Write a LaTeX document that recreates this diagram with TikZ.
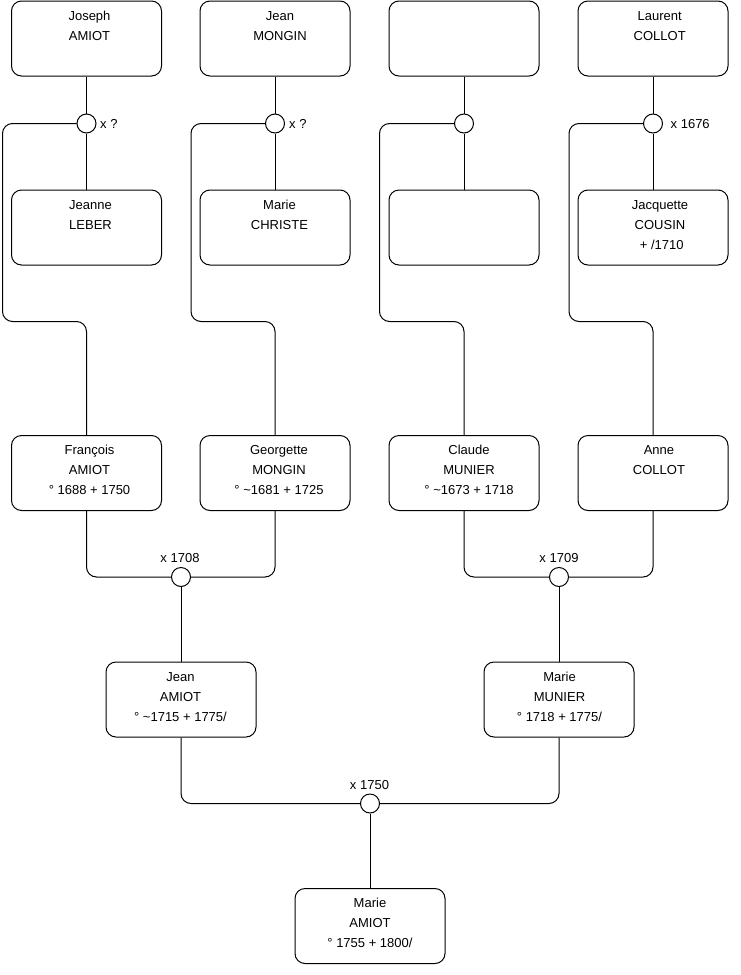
\documentclass[tikz,border=0pt]{standalone}
\usepackage{fontspec}
\setmainfont{Liberation Sans}
\newcommand{\ptext}[2]{\parbox[t][75pt][t]{150pt}{\centering\leftskip=#1 plus 1fil\rule{0pt}{19pt}#2}}
\begin{document}
\begin{tikzpicture}[x=1pt,y=-1pt, font=\fontsize{13}{20}\selectfont,
  box/.style={draw, rounded corners=10pt, minimum width=150pt, minimum height=75pt, inner sep=0pt, line width=1pt},
  knot/.style={draw, circle, minimum size=19pt, inner sep=0pt, line width=1pt, fill=white},
  link/.style={line width=1pt, rounded corners=10pt},
  lbl/.style={inner sep=0pt}]
\useasboundingbox (0,0) rectangle (740,975);

% top row: fathers
\node[box] (p1) at (86.5,38.5) {\ptext{6pt}{Joseph\\AMIOT}};
\node[box] (p2) at (275,38.5) {\ptext{10pt}{Jean\\MONGIN}};
\node[box] (p3) at (464,38.5) {};
\node[box] (p4) at (653,38.5) {\ptext{13.5pt}{Laurent\\COLLOT}};

% marriage knots
\node[knot] (k1) at (86.5,123.5) {};
\node[knot] (k2) at (275,123.5) {};
\node[knot] (k3) at (464,123.5) {};
\node[knot] (k4) at (653,123.5) {};

% mothers
\node[box] (m1) at (86.5,227.5) {\ptext{8pt}{Jeanne\\LEBER}};
\node[box] (m2) at (275,227.5) {\ptext{9pt}{Marie\\CHRISTE}};
\node[box] (m3) at (464,227.5) {};
\node[box] (m4) at (653,227.5) {\ptext{14pt}{Jacquette\\COUSIN\\\hspace*{3.6pt}+ /1710}};

% third row
\node[box] (c1) at (86.5,473) {\ptext{6pt}{François\\AMIOT\\° 1688 + 1750}};
\node[box] (c2) at (275,473) {\ptext{8pt}{Georgette\\MONGIN\\° \textasciitilde1681 + 1725}};
\node[box] (c3) at (464,473) {\ptext{10pt}{Claude\\MUNIER\\° \textasciitilde1673 + 1718}};
\node[box] (c4) at (653,473) {\ptext{12pt}{Anne\\COLLOT}};

\node[knot] (k5) at (181,577) {};
\node[knot] (k6) at (559,577) {};

\node[box] (g1) at (181,699.5) {\ptext{-1pt}{Jean\\AMIOT\\° \textasciitilde1715 + 1775/}};
\node[box] (g2) at (559,699.5) {\ptext{1pt}{Marie\\MUNIER\\° 1718 + 1775/}};

\node[knot] (k7) at (370,803.5) {};

\node[box] (r) at (370,926) {\ptext{0pt}{Marie\\AMIOT\\° 1755 + 1800/}};

% connectors
\draw[link] (p1) -- (k1);
\draw[link] (p2) -- (k2);
\draw[link] (p3) -- (k3);
\draw[link] (p4) -- (k4);
\draw[link] (k1) -- (m1);
\draw[link] (k2) -- (m2);
\draw[link] (k3) -- (m3);
\draw[link] (k4) -- (m4);
\draw[link] (k1.west) -| (2.5,321.5) -| (c1.north);
\draw[link] (k2.west) -| (191,321.5) -| (c2.north);
\draw[link] (k3.west) -| (379.5,321.5) -| (c3.north);
\draw[link] (k4.west) -| (569,321.5) -| (c4.north);
\draw[link] (c1.south) |- (k5.west);
\draw[link] (c2.south) |- (k5.east);
\draw[link] (c3.south) |- (k6.west);
\draw[link] (c4.south) |- (k6.east);
\draw[link] (k5) -- (g1);
\draw[link] (k6) -- (g2);
\draw[link] (g1.south) |- (k7.west);
\draw[link] (g2.south) |- (k7.east);
\draw[link] (k7) -- (r);

% labels
\node[lbl, anchor=west] (l1) at (100,124) {x ?};
\node[lbl, anchor=west] (l2) at (289,124) {x ?};
\node[lbl, anchor=west] (l4) at (670.5,124) {x 1676};
\node[lbl] (l5) at (180,558.5) {x 1708};
\node[lbl] (l6) at (559,558.5) {x 1709};
\node[lbl] (l7) at (369.5,785) {x 1750};
\end{tikzpicture}
\end{document}
